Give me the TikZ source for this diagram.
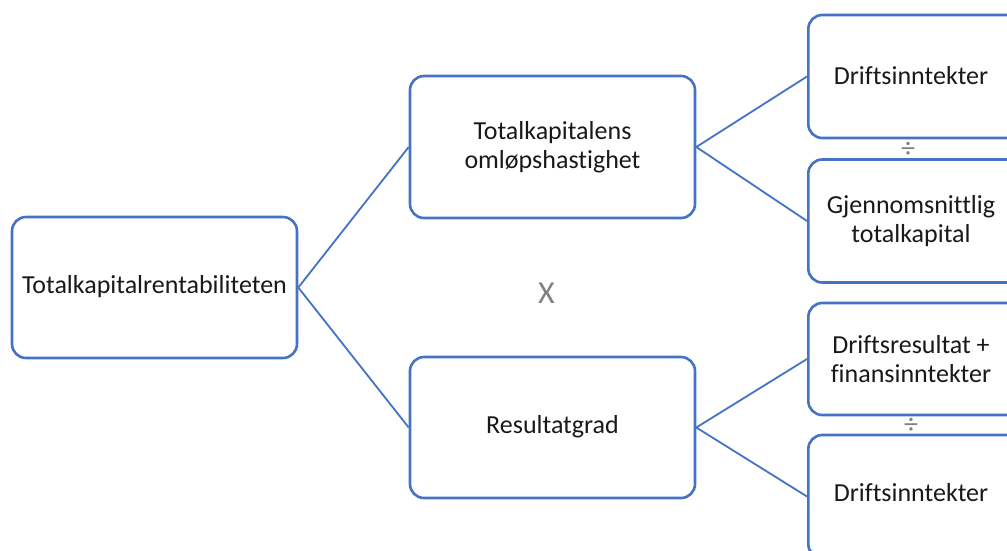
\documentclass[tikz,border=0pt]{standalone}
\usepackage{fontspec}
\setmainfont{Carlito}[Ligatures=NoCommon]
\definecolor{boxblue}{HTML}{4472C4}
\definecolor{symgray}{HTML}{808080}
\begin{document}
\begin{tikzpicture}[x=1pt,y=-1pt,
  box/.style={draw=boxblue,line width=2.6pt,rounded corners=14pt,fill=white},
  conn/.style={draw=boxblue,line width=1.8pt},
  lbl/.style={font=\fontsize{26}{29}\selectfont,align=center,text=black!90},
  sym/.style={font=\fontsize{28}{30}\selectfont,text=symgray}]
\clip (0,0) rectangle (1007,550);
\fill[white] (0,0) rectangle (1007,550);
% boxes
\node[box,minimum width=285pt,minimum height=141pt] (root) at (154.5,287.5) {};
\node[box,minimum width=285pt,minimum height=142pt] (oms) at (552.5,147) {};
\node[box,minimum width=285pt,minimum height=141pt] (res) at (552.5,427.5) {};
\node[box,minimum width=230pt,minimum height=123pt,anchor=west] (r1) at (807,76.5) {};
\node[box,minimum width=230pt,minimum height=123pt,anchor=west] (r2) at (807,221) {};
\node[box,minimum width=230pt,minimum height=112pt,anchor=west] (r3) at (807,359) {};
\node[box,minimum width=230pt,minimum height=123pt,anchor=west] (r4) at (807,496.5) {};
% connectors
\draw[conn] (root.east) -- (oms.west);
\draw[conn] (root.east) -- (res.west);
\draw[conn] (oms.east) -- (r1.west);
\draw[conn] (oms.east) -- (r2.west);
\draw[conn] (res.east) -- (r3.west);
\draw[conn] (res.east) -- (r4.west);
% labels
\node[lbl] (t0) at (154.5,287) {Totalkapitalrentabiliteten};
\node[lbl] (t1) at (552.5,147) {Totalkapitalens\\omløpshastighet};
\node[lbl] (t2) at (552.5,427) {Resultatgrad};
\node[lbl] (t3) at (911,76) {Driftsinntekter};
\node[lbl] (t4) at (911,221) {Gjennomsnittlig\\totalkapital};
\node[lbl] (t5) at (911,359) {Driftsresultat +\\finansinntekter};
\node[lbl] (t6) at (911,493) {Driftsinntekter};
\node[sym,font=\fontsize{32}{34}\selectfont] (x) at (546.5,293) {X};
\node[sym] (d1) at (908,150) {÷};
\node[sym] (d2) at (911,426) {÷};
\end{tikzpicture}
\end{document}
